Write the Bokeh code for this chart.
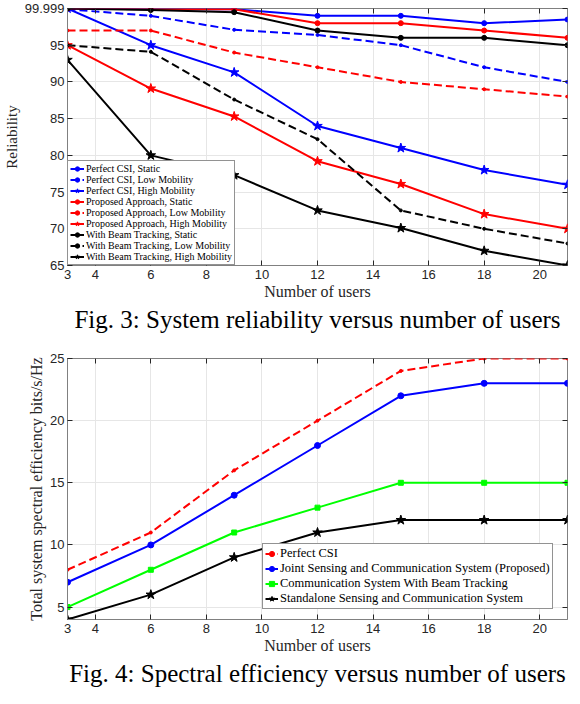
from bokeh.plotting import figure
from bokeh.layouts import column
from bokeh.models import FixedTicker, LinearAxis, Title, Range1d
from bokeh.embed import file_html
from bokeh.resources import INLINE

# ---------------- data ----------------
users = [3, 6, 9, 12, 15, 18, 21]

# Fig. 3 reliability
pcsi_static = [99.999, 99.9, 99.9, 99.0, 99.0, 98.0, 98.5]
pcsi_low = [99.9, 99.0, 97.1, 96.4, 95.0, 92.0, 90.0]
pcsi_high = [99.999, 95.0, 91.3, 84.0, 81.0, 78.0, 76.0]
prop_static = [99.999, 99.9, 99.9, 98.0, 98.0, 97.0, 96.0]
prop_low = [97.0, 97.0, 94.0, 92.0, 90.0, 89.0, 88.0]
prop_high = [95.0, 89.1, 85.3, 79.2, 76.1, 72.0, 70.0]
bt_static = [99.999, 99.8, 99.5, 97.0, 96.0, 96.0, 95.0]
bt_low = [95.0, 94.1, 87.6, 82.2, 72.5, 70.0, 68.0]
bt_high = [93.0, 80.0, 77.3, 72.5, 70.1, 67.0, 65.0]

rel_ticks = [65, 70, 75, 80, 85, 90, 95, 99.999]
rel_tick_labels = ["65", "70", "75", "80", "85", "90", "95", "99.999"]

# Fig. 4 spectral efficiency
se_perfect = [8, 11, 16, 20, 24, 25, 25]
se_joint = [7, 10, 14, 18, 22, 23, 23]
se_comm_bt = [5, 8, 11, 13, 15, 15, 15]
se_standalone = [4, 6, 9, 11, 12, 12, 12]

se_ticks = [5, 10, 15, 20, 25]
se_tick_labels = ["5", "10", "15", "20", "25"]
x_ticks = [3, 4, 6, 8, 10, 12, 14, 16, 18, 20]

caption3 = "Fig. 3: System reliability versus number of users"
caption4 = "Fig. 4: Spectral efficiency versus number of users"

# ---------------- style ----------------
SANS = "Liberation Sans"
SERIF = "Liberation Serif"
AX = "#262626"
BOX = "#808080"
GRID = "#e6e6e6"
LW = 2
DASH = "8 4"


def base_fig(height, ymin, ymax, yticks, ylabels, ylabel, ylabel_size, min_top, min_bottom):
    p = figure(width=571, height=height, output_backend="svg", toolbar_location=None,
               x_range=Range1d(3, 21), y_range=Range1d(ymin, ymax),
               min_border_left=60, min_border_right=4, min_border_top=min_top,
               min_border_bottom=min_bottom)
    p.outline_line_color = BOX
    p.outline_line_width = 1
    p.xaxis.ticker = FixedTicker(ticks=x_ticks)
    p.yaxis.ticker = FixedTicker(ticks=yticks)
    p.yaxis.major_label_overrides = {t: l for t, l in zip(yticks, ylabels)}
    for ax in (p.xaxis, p.yaxis):
        ax.axis_line_color = BOX
        ax.major_tick_in = 5
        ax.major_tick_out = 0
        ax.major_tick_line_color = AX
        ax.minor_tick_line_color = None
        ax.major_label_text_font = SANS
        ax.major_label_text_font_size = "13px"
        ax.major_label_text_color = AX
        ax.axis_label_text_font = SERIF
        ax.axis_label_text_font_style = "normal"
        ax.axis_label_text_color = AX
    p.xaxis.axis_label_text_font_size = "16px"
    p.yaxis.axis_label_text_font_size = ylabel_size
    p.xaxis.major_label_standoff = 4
    p.yaxis.major_label_standoff = 3
    p.xaxis.axis_label_standoff = 1
    p.yaxis.axis_label_standoff = 2
    p.xaxis.axis_label = "Number of users"
    p.yaxis.axis_label = ylabel
    p.xgrid.ticker = FixedTicker(ticks=x_ticks)
    p.ygrid.ticker = FixedTicker(ticks=yticks)
    p.grid.grid_line_color = GRID
    p.grid.grid_line_width = 1
    # box ticks on the top and right edges (no labels)
    for loc, tk in (("right", yticks), ("above", x_ticks)):
        ax = LinearAxis(ticker=FixedTicker(ticks=tk), major_label_text_font_size="0px",
                        major_label_text_color=None,
                        major_tick_in=5, major_tick_out=0, minor_tick_line_color=None,
                        axis_line_color=None, major_tick_line_color=AX,
                        major_label_standoff=0)
        p.add_layout(ax, loc)
    return p


def series(p, y, color, label, dash="solid", marker="circle", msize=5):
    p.line(users, y, line_color=color, line_width=LW, line_dash=dash, legend_label=label)
    p.scatter(users, y, marker=marker, size=msize, fill_color=color, line_color=color,
              legend_label=label)


def style_legend(lg, loc, font_size, row_h, glyph_w):
    lg.location = loc
    lg.margin = 0
    lg.padding = 2
    lg.spacing = 0
    lg.label_height = row_h
    lg.glyph_height = row_h
    lg.glyph_width = glyph_w
    lg.label_standoff = 2
    lg.label_text_font = SERIF
    lg.label_text_font_size = font_size
    lg.label_text_color = "#000000"
    lg.label_text_line_height = 1.0
    lg.border_line_color = AX
    lg.border_line_width = 1
    lg.background_fill_alpha = 1


# ---------------- Fig. 3 ----------------
p1 = base_fig(350, 65, 99.999, rel_ticks, rel_tick_labels, "Reliability", "15px", 8, 85)
series(p1, pcsi_static, "#0000ff", "Perfect CSI, Static")
series(p1, pcsi_low, "#0000ff", "Perfect CSI, Low Mobility", DASH, "circle", 3)
series(p1, pcsi_high, "#0000ff", "Perfect CSI, High Mobility", "solid", "star", 10)
series(p1, prop_static, "#ff0000", "Proposed Approach, Static")
series(p1, prop_low, "#ff0000", "Proposed Approach, Low Mobility", DASH, "circle", 3)
series(p1, prop_high, "#ff0000", "Proposed Approach, High Mobility", "solid", "star", 10)
series(p1, bt_static, "#000000", "With Beam Tracking, Static")
series(p1, bt_low, "#000000", "With Beam Tracking, Low Mobility", DASH, "circle", 3)
series(p1, bt_high, "#000000", "With Beam Tracking, High Mobility", "solid", "star", 10)
style_legend(p1.legend[0], (0, 0), "10px", 11, 14)

p1.add_layout(Title(text=caption3, align="center", text_font=SERIF, text_font_size="25px",
                    text_font_style="normal", text_color="#000000", standoff=3), "below")

# ---------------- Fig. 4 ----------------
p2 = base_fig(338, 4, 25, se_ticks, se_tick_labels,
              "Total system spectral efficiency bits/s/Hz", "16px", 8, 64)
series(p2, se_perfect, "#ff0000", "Perfect CSI", DASH, "circle", 3)
series(p2, se_joint, "#0000ff", "Joint Sensing and Communication System (Proposed)", "solid", "circle", 6)
series(p2, se_comm_bt, "#00ff00", "Communication System With Beam Tracking", "solid", "square", 5)
series(p2, se_standalone, "#000000", "Standalone Sensing and Communication System", "solid", "star", 10)
style_legend(p2.legend[0], (195, 10), "12.5px", 13, 13)

p2.add_layout(Title(text=caption4, align="center", text_font=SERIF, text_font_size="25px",
                    text_font_style="normal", text_color="#000000", standoff=3), "below")

layout = column(p1, p2, spacing=0)
open("out.html", "w").write(file_html(layout, INLINE))
